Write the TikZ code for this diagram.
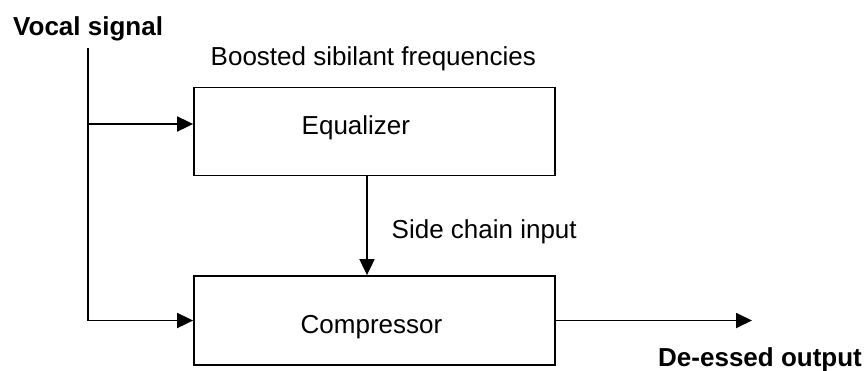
\documentclass[tikz,border=0pt]{standalone}
\usepackage{fontspec}
\setmainfont{Liberation Sans}
\usetikzlibrary{arrows.meta}
\begin{document}
\begin{tikzpicture}[x=1pt,y=-1pt,
  line/.style={line width=1.8pt},
  arr/.style={line, -{Triangle[length=16pt,width=15pt]}},
  box/.style={draw, line width=1.8pt, rectangle, inner sep=0pt},
  txt/.style={font=\fontsize{26}{31}\selectfont, inner sep=0pt, anchor=base west},
  btxt/.style={txt, font=\fontsize{26}{31}\selectfont\bfseries}]
\useasboundingbox (0,0) rectangle (866,370);
% boxes
\node[box, minimum width=361pt, minimum height=88pt] (eq) at (374.5,131.5) {};
\node[box, minimum width=361pt, minimum height=89pt] (comp) at (374.5,320.5) {};
% texts
\node[txt] (eqt) at (301.5,134) {Equalizer};
\node[txt] (compt) at (300.5,333) {Compressor};
\node[btxt] (vs) at (13,35) {Vocal signal};
\node[txt] (bsf) at (210.5,65) {Boosted sibilant frequencies};
\node[txt] (sci) at (391.5,238) {Side chain input};
\node[btxt] (deo) at (658,366) {De-essed output};
% connectors
\coordinate (vtop) at (88,48);
\coordinate (vj) at (88,124);
\coordinate (vc) at (88,320.5);
\coordinate (out) at (752,320.5);
\draw[line] (vtop) -- (vj);
\draw[arr] (vj) -- (vj -| eq.west);
\draw[arr, line join=miter] (vj) -- (vc) -- (comp.west);
\draw[arr] ([xshift=-7.5pt]eq.south) -- ([xshift=-7.5pt]comp.north);
\draw[arr] (comp.east) -- (out);
\end{tikzpicture}
\end{document}
